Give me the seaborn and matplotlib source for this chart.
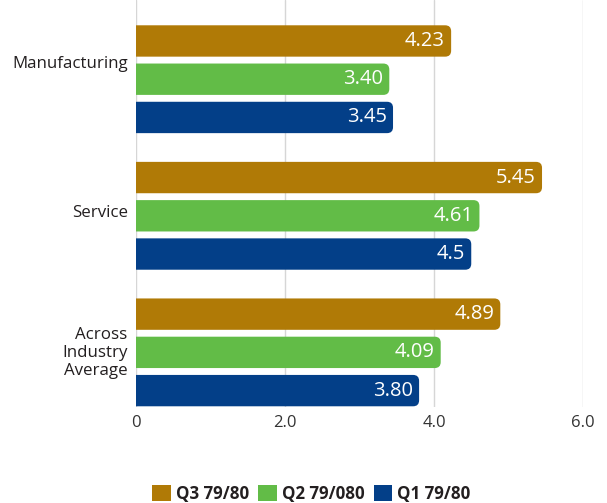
import matplotlib
matplotlib.use("Agg")
import matplotlib.pyplot as plt
import seaborn as sns
import pandas as pd
from matplotlib.patches import FancyBboxPatch, Patch

# Data
sectors = ["Manufacturing", "Service", "Across\nIndustry\nAverage"]
quarters = ["Q3 79/80", "Q2 79/080", "Q1 79/80"]
q3_labels = ["4.23", "5.45", "4.89"]
q2_labels = ["3.40", "4.61", "4.09"]
q1_labels = ["3.45", "4.5", "3.80"]
x_ticks = [0, 2, 4, 6]
x_tick_labels = ["0", "2.0", "4.0", "6.0"]
colors = ["#B07A06", "#62BC47", "#033F88"]

sns.set_theme(style="white")
plt.rcParams["font.family"] = ["Open Sans", "DejaVu Sans"]

series_labels = [q3_labels, q2_labels, q1_labels]
rows = []
for q, labs in zip(quarters, series_labels):
    for s, lab in zip(sectors, labs):
        rows.append({"sector": s, "quarter": q, "score": float(lab)})
df = pd.DataFrame(rows)

W, H = 607, 503
fig = plt.figure(figsize=(W / 100, H / 100), dpi=100)
ax_left, ax_right, ax_top, ax_bottom = 136, 583, 0, 407
ax = fig.add_axes([ax_left / W, 1 - ax_bottom / H,
                   (ax_right - ax_left) / W, (ax_bottom - ax_top) / H])

sns.barplot(data=df, x="score", y="sector", hue="quarter", order=sectors,
            hue_order=quarters, palette=colors, orient="h", width=0.84,
            gap=0.18, saturation=1, legend=False, ax=ax)

xlim = (0, 6)
ylim = (2.40, -0.58)
ax.set_xlim(*xlim)
ax.set_ylim(*ylim)

# Replace square bars with bars rounded on the right end
ppx = (ax_right - ax_left) / (xlim[1] - xlim[0])
ppy = (ax_bottom - ax_top) / abs(ylim[0] - ylim[1])
radius_px = 6
r = radius_px / ppx
for container, color, labs in zip(ax.containers, colors, series_labels):
    for bar in container:
        x0, y0 = bar.get_x(), bar.get_y()
        w, h = bar.get_width(), bar.get_height()
        rounded = FancyBboxPatch((x0 - 0.3, y0), w + 0.3, h,
                                 boxstyle=f"round,pad=0,rounding_size={r}",
                                 mutation_aspect=ppx / ppy,
                                 facecolor=color, edgecolor="none", zorder=2)
        ax.add_patch(rounded)
        bar.set_visible(False)
    texts = ax.bar_label(container, labels=labs, padding=-4.5, color="white",
                         fontsize=14.5, zorder=3)
    for t in texts:
        t.set_ha("right")

# Category labels sit slightly above their group centres
label_shift = [-0.125, -0.037, -0.015]
ax.set_yticks([i + d for i, d in enumerate(label_shift)])
ax.set_yticklabels(sectors)

ax.set_xticks(x_ticks)
ax.set_xticklabels(x_tick_labels)
ax.grid(axis="x", color="#d6d6d6", linewidth=1)
ax.grid(axis="y", visible=False)
ax.set_axisbelow(True)
for sp in ax.spines.values():
    sp.set_visible(False)
ax.tick_params(axis="x", length=0, pad=6, labelsize=12, labelcolor="#333333")
ax.tick_params(axis="y", length=0, pad=6, labelsize=12.2, labelcolor="#231F20")
for lab in ax.get_yticklabels():
    lab.set_multialignment("right")
    lab.set_linespacing(1.17)
ax.set_xlabel("")
ax.set_ylabel("")

handles = [Patch(facecolor=c, edgecolor="none") for c in colors]
fig.legend(handles, quarters, loc="lower center", bbox_to_anchor=(0.513, -0.03),
           ncol=3, frameon=False, handlelength=1.08, handleheight=1.05,
           handletextpad=0.3, columnspacing=0.55,
           prop={"weight": "bold", "size": 12.2})
for t in fig.legends[0].get_texts():
    t.set_color("#231F20")

fig.savefig("out.png", dpi=100)
